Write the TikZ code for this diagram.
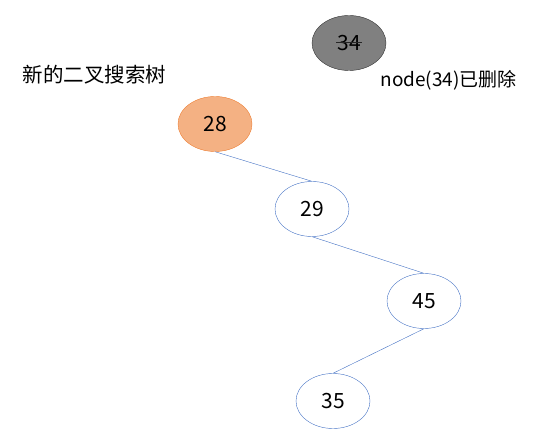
\documentclass[tikz,border=0pt]{standalone}
\usepackage{fontspec}
\setmainfont{Noto Sans CJK SC}
\usetikzlibrary{shapes,positioning}
\definecolor{edgeblue}{HTML}{4472C4}
\definecolor{newroot}{HTML}{F4B183}
\definecolor{newrootline}{HTML}{ED7D31}

\begin{document}
\begin{tikzpicture}[x=1pt,y=-1pt,
    bst/.style={draw=edgeblue, ellipse, minimum width=74pt, minimum height=55pt, inner sep=0pt, font=\fontsize{21}{24}\selectfont}]
            \useasboundingbox (0,0) rectangle (533,438);

            \node[bst, draw=black!80, fill=black!50] (N34) at (349,43) {34};
            \draw[black!85] ([xshift=-13pt,yshift=1pt]N34.center) -- ([xshift=13pt,yshift=1pt]N34.center);
            \node[anchor=west, font=\fontsize{19}{24}\selectfont] (deleted) at (377,80) {node(34)已删除};
            \node[anchor=west, font=\fontsize{20.5}{24}\selectfont] (title) at (19,75) {新的二叉搜索树};

            \node[bst, draw=newrootline, fill=newroot] (N28) at (215,124) {28};
            \node[bst] (N29) at (312,209) {29};
            \node[bst] (N45) at (424,301) {45};
            \node[bst] (N35) at (333,401) {35};

            \draw[edgeblue] (N28.south) -- (N29.north);
            \draw[edgeblue] (N29.south) -- (N45.north);
            \draw[edgeblue] (N45.south) -- (N35.north);
        \end{tikzpicture}
\end{document}
